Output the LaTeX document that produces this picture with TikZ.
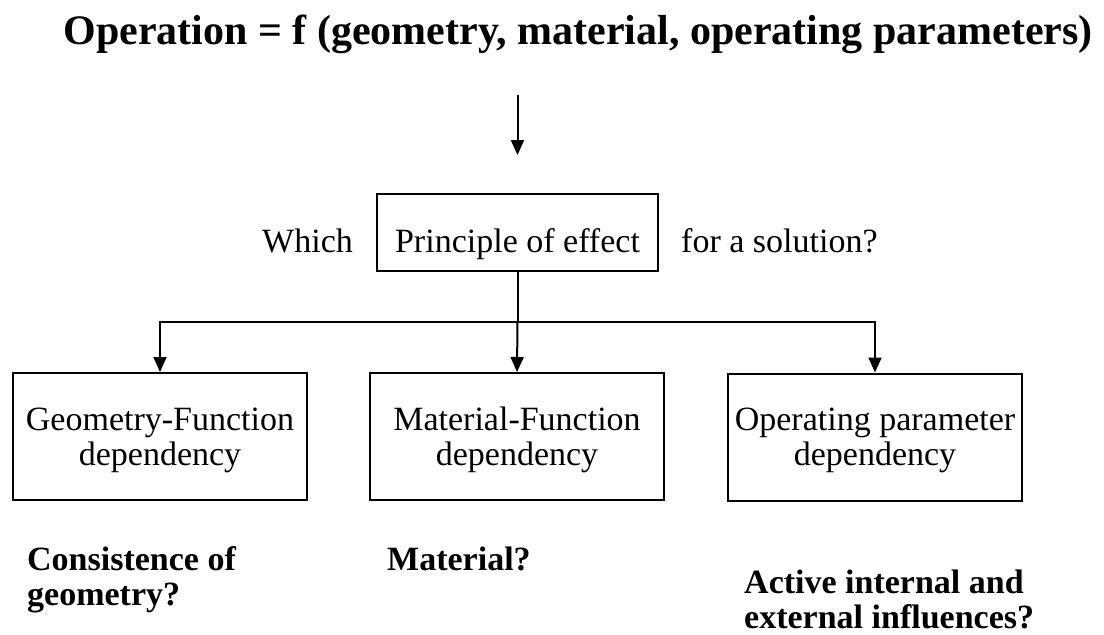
\documentclass[tikz,border=0pt]{standalone}
\usepackage{fontspec}
\setmainfont{Liberation Serif}
\usetikzlibrary{arrows.meta,positioning}
\tikzset{
  boxfn/.style={ draw, line width=2pt, minimum width=294pt, minimum height=127pt, text depth=0pt, align=center, font=\fontsize{34}{35}\selectfont }
}
\tikzset{
  boxpe/.style={ draw, line width=2pt, minimum width=281pt, minimum height=77pt, text height=39pt, text depth=0pt, font=\fontsize{34}{35}\selectfont }
}
\tikzset{
  sidetxt/.style={ anchor=base west, inner sep=0pt, font=\fontsize{34}{35}\selectfont }
}
\tikzset{
  asktxt/.style={ anchor=north west, inner sep=0pt, align=left, font=\fontsize{34}{35}\selectfont\bfseries }
}
\tikzset{
  conn/.style={ line width=2pt, -{Triangle[length=15pt,width=13pt]} }
}

\begin{document}
\begin{tikzpicture}[x=1pt, y=-1pt]
      \useasboundingbox (0,0) rectangle (1104,635);

      \node[anchor=base, inner sep=0pt, font=\fontsize{42}{44}\selectfont\bfseries] (title) at (578,44)
        {Operation = f (geometry, material, operating parameters)};
      \coordinate (arrtop) at (517.5,95);

      \node[boxpe] (pe) at (517.5,232.5) {Principle of effect};
      \node[sidetxt] (which) at (262,252) {Which};
      \node[sidetxt] (forsol) at (681,252) {for a solution?};

      \coordinate (split) at (517.5,322);

      \node[boxfn] (geo) at (160,436.5) {Geometry-Function\\dependency};
      \node[boxfn] (mat) at (517,436.5) {Material-Function\\dependency};
      \node[boxfn] (opr) at (875,437) {Operating parameter\\dependency};

      \node[asktxt] (askgeo) at (27,546.5) {Consistence of\\geometry?};
      \node[asktxt] (askmat) at (387,546.5) {Material?};
      \node[asktxt] (askopr) at (744,569.5) {Active internal and\\external influences?};

      \draw[conn] (arrtop) -- ([yshift=1pt]pe.north |- 0,156);
      \draw[line width=2pt] (pe.south) -- (split);
      \begin{scope}[conn]
        \draw (split) -| (geo.north);
        \draw (split) -- (mat.north);
        \draw (split) -| (opr.north);
      \end{scope}
    \end{tikzpicture}
\end{document}
